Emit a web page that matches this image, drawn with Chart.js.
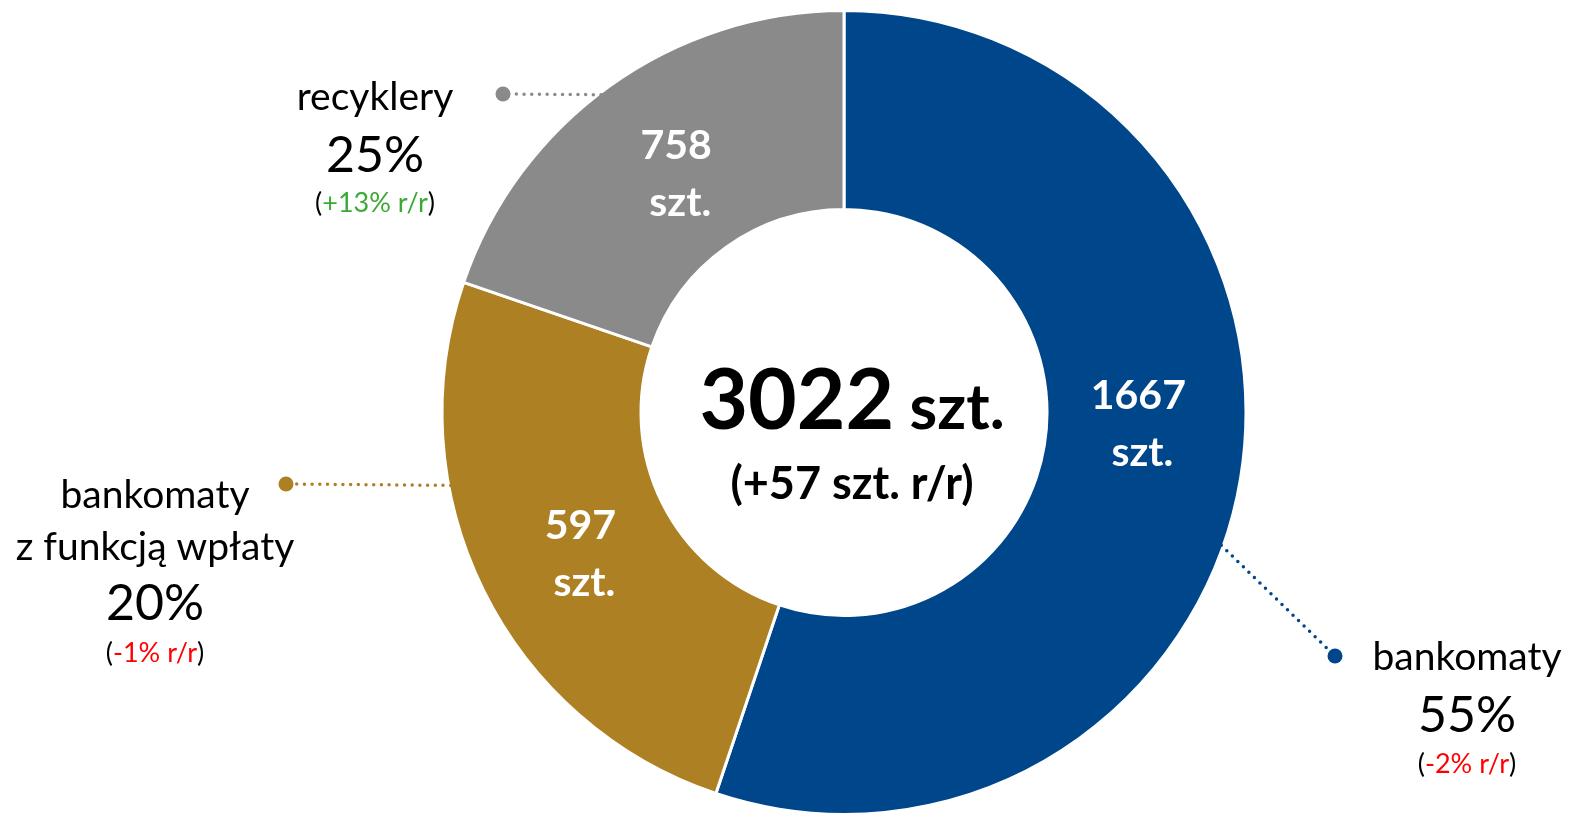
<!DOCTYPE html>
<html>
<head>
<meta charset="utf-8">
<script src="https://cdn.jsdelivr.net/npm/chart.js@4"></script>
<style>
  body { margin: 0; background: #fff; }
  #wrap { position: relative; width: 1573px; height: 815px; }
</style>
</head>
<body>
<div id="wrap"><canvas id="atmChart"></canvas></div>
<script>
// dane z wykresu
const categories = ['bankomaty', 'bankomaty|z funkcją wpłaty', 'recyklery'];
const units = [1667, 597, 758];
const yoyChanges = ['-2% r/r', '-1% r/r', '+13% r/r'];
const totalChange = '+57 szt. r/r';
const colors = ['#00468B', '#AD8123', '#8A8A8A'];
// wielkosc lukow: w oryginale zloty i szary luk
// sa zamienione wzgledem podpisow (zloty ~25%, szary ~20%)
const segmentSizes = [1667, 758, 597];

const total = units.reduce((a, b) => a + b, 0);
const shares = units.map(v => Math.round(v / total * 100) + '%');

const FONT = 'Lato, "Open Sans", sans-serif';

// opisy, linie odniesienia i teksty w srodku
const labelsPlugin = {
    id: 'atmLabels',
    afterDraw(chart) {
        const ctx = chart.ctx;
        const arcs = chart.getDatasetMeta(0).data;
        const cx = arcs[0].x, cy = arcs[0].y;
        const rOut = arcs[0].outerRadius, rIn = arcs[0].innerRadius;
        const deg = Math.PI / 180;

        // leader: angle on ring (clockwise from top), dot position, text block
        const layout = [
            { angle: 109.4, dot: [1335, 656], tx: 1467, lines: [670, 732, 773] },
            { angle: 259.5, dot: [286, 484], tx: 155, lines: [508, 560, 620, 662] },
            { angle: 322.6, dot: [503, 94], tx: 375, lines: [110, 172, 212] }
        ];
        const inner = [
            { angle: 92, rf: 0.46 },
            { angle: 242, rf: 0.48 },
            { angle: 325, rf: 0.45 }
        ];

        ctx.save();
        layout.forEach((L, i) => {
            const ax = cx + (rOut - 2) * Math.sin(L.angle * deg);
            const ay = cy - (rOut - 2) * Math.cos(L.angle * deg);
            ctx.strokeStyle = colors[i];
            ctx.lineWidth = 3.5;
            ctx.lineCap = 'round';
            ctx.setLineDash([0, 7.7]);
            ctx.beginPath();
            ctx.moveTo(ax, ay);
            ctx.lineTo(L.dot[0], L.dot[1]);
            ctx.stroke();
            ctx.setLineDash([]);
            ctx.fillStyle = colors[i];
            ctx.beginPath();
            ctx.arc(L.dot[0], L.dot[1], 7.5, 0, Math.PI * 2);
            ctx.fill();

            // text block
            ctx.textAlign = 'center';
            ctx.textBaseline = 'alphabetic';
            ctx.fillStyle = '#000';
            const nameLines = categories[i].split('|');
            let k = 0;
            ctx.font = '39px ' + FONT;
            nameLines.forEach(t => { ctx.fillText(t, L.tx, L.lines[k++]); });
            ctx.font = '50px ' + FONT;
            ctx.fillText(shares[i], L.tx, L.lines[k++]);

            // (zmiana r/r) w kolorze
            ctx.font = '27px ' + FONT;
            const chg = yoyChanges[i];
            const wOpen = ctx.measureText('(').width;
            const wChg = ctx.measureText(chg).width;
            const wClose = ctx.measureText(')').width;
            let x = L.tx - (wOpen + wChg + wClose) / 2;
            const y = L.lines[k];
            ctx.textAlign = 'left';
            ctx.fillStyle = '#000';
            ctx.fillText('(', x, y);
            x += wOpen;
            ctx.fillStyle = chg.startsWith('+') ? '#3AAA35' : '#FF0000';
            ctx.fillText(chg, x, y);
            x += wChg;
            ctx.fillStyle = '#000';
            ctx.fillText(')', x, y);
        });

        // wartosci w segmentach
        ctx.textAlign = 'center';
        ctx.textBaseline = 'alphabetic';
        ctx.fillStyle = '#fff';
        ctx.font = 'bold 41px ' + FONT;
        inner.forEach((p, i) => {
            const r = rIn + (rOut - rIn) * p.rf;
            const x = cx + r * Math.sin(p.angle * deg);
            const y = cy - r * Math.cos(p.angle * deg);
            ctx.fillText(String(units[i]), x, y - 14);
            ctx.fillText('szt.', x + 4, y + 43);
        });

        // suma w srodku
        ctx.fillStyle = '#000';
        ctx.textAlign = 'left';
        ctx.font = 'bold 84px ' + FONT;
        const tNum = String(total);
        const wNum = ctx.measureText(tNum).width;
        ctx.font = 'bold 63px ' + FONT;
        const wSzt = ctx.measureText(' szt.').width;
        let sx = cx + 8 - (wNum + wSzt) / 2;
        ctx.font = 'bold 84px ' + FONT;
        ctx.fillText(tNum, sx, cy + 16);
        ctx.font = 'bold 63px ' + FONT;
        ctx.fillText(' szt.', sx + wNum, cy + 16);
        ctx.textAlign = 'center';
        ctx.font = 'bold 45px ' + FONT;
        ctx.fillText('(' + totalChange + ')', cx + 8, cy + 86);
        ctx.restore();
    }
};

new Chart(document.getElementById('atmChart'), {
    type: 'doughnut',
    data: {
        labels: categories.map(c => c.replace('|', ' ')),
        datasets: [{
            data: segmentSizes,
            backgroundColor: colors,
            borderColor: '#fff',
            borderWidth: 3
        }]
    },
    options: {
        responsive: true,
        maintainAspectRatio: false,
        animation: false,
        radius: 402,
        cutout: '50.5%',
        layout: { padding: { left: 444, right: 329, top: 13, bottom: 3 } },
        plugins: {
            legend: { display: false },
            tooltip: { enabled: false }
        }
    },
    plugins: [labelsPlugin]
});
</script>
</body>
</html>
